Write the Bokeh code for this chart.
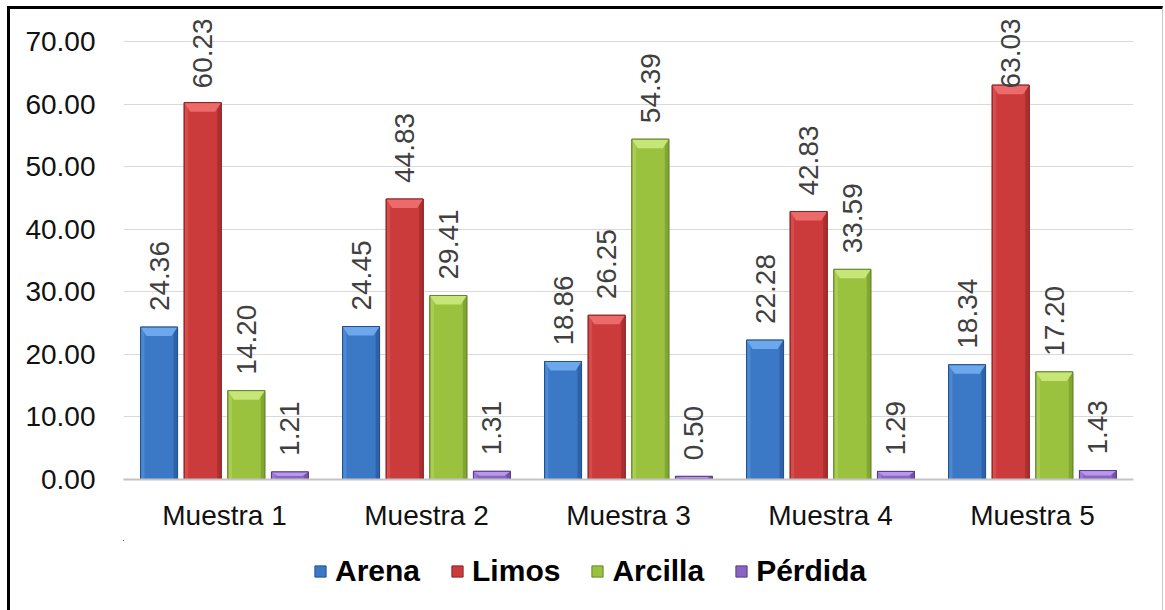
import math

from bokeh.core.properties import value
from bokeh.embed import file_html
from bokeh.layouts import column
from bokeh.models import (ColumnDataSource, FixedTicker, Legend, LegendItem,
                          NumeralTickFormatter, Range1d)
from bokeh.plotting import figure
from bokeh.resources import INLINE

# --- data -------------------------------------------------------------------
muestras = ["Muestra 1", "Muestra 2", "Muestra 3", "Muestra 4", "Muestra 5"]
series = ["Arena", "Limos", "Arcilla", "Pérdida"]
arena = [24.36, 24.45, 18.86, 22.28, 18.34]
limos = [60.23, 44.83, 26.25, 42.83, 63.03]
arcilla = [14.20, 29.41, 54.39, 33.59, 17.20]
perdida = [1.21, 1.31, 0.50, 1.29, 1.43]
y_ticks = [0, 10, 20, 30, 40, 50, 60, 70]

values_by_series = [arena, limos, arcilla, perdida]

# --- styling ----------------------------------------------------------------
FONT = "Liberation Sans"
# (fill, edge, highlight, shade) per series
palette = [
    ("#3b78c6", "#24508c", "#6ea8ec", "#2d62a8"),
    ("#cc3b3b", "#8c2323", "#ec6a6a", "#ad2e2e"),
    ("#9bc23f", "#67862a", "#c6e677", "#82a632"),
    ("#8a64c2", "#583c86", "#b898ea", "#7352a8"),
]

W = 1152
H_MAIN, H_LEG = 531, 73
MB_L, MB_R, MB_T, MB_B = 113, 29, 7, 61
Y_MAX = 74.0
frame_w = W - MB_L - MB_R
frame_h = H_MAIN - MB_T - MB_B
px_x = frame_w / len(muestras)      # pixels per category unit
px_y = frame_h / Y_MAX              # pixels per y unit

bar_w = 37 / px_x
step = 0.216
offsets = [(i - 1.5) * step for i in range(len(series))]
centers = [i + 0.5 for i in range(len(muestras))]

p = figure(width=W, height=H_MAIN, output_backend="svg", toolbar_location=None,
           x_range=Range1d(0, len(muestras)), y_range=Range1d(0, Y_MAX),
           min_border_left=MB_L, min_border_right=MB_R,
           min_border_top=MB_T, min_border_bottom=MB_B,
           background_fill_color="white", border_fill_color="white")
p.outline_line_color = None

# grid and axes
p.xgrid.grid_line_color = None
p.ygrid.ticker = FixedTicker(ticks=y_ticks)
p.ygrid.grid_line_color = "#d9d9d9"
p.ygrid.grid_line_width = 1

p.yaxis.ticker = FixedTicker(ticks=y_ticks)
p.yaxis.formatter = NumeralTickFormatter(format="0.00")
p.yaxis.axis_line_color = None
p.yaxis.major_tick_line_color = None
p.yaxis.minor_tick_line_color = None
p.yaxis.major_label_standoff = 22
p.yaxis.major_label_text_font = FONT
p.yaxis.major_label_text_font_size = "28px"
p.yaxis.major_label_text_color = "#111111"

p.xaxis.ticker = FixedTicker(ticks=centers)
p.xaxis.major_label_overrides = {c: m for c, m in zip(centers, muestras)}
p.xaxis.axis_line_color = "#c4c4c4"
p.xaxis.axis_line_width = 2
p.xaxis.major_tick_line_color = None
p.xaxis.minor_tick_line_color = None
p.xaxis.major_label_standoff = 14
p.xaxis.major_label_text_font = FONT
p.xaxis.major_label_text_font_size = "28px"
p.xaxis.major_label_text_color = "#111111"

# value labels sit above the bars, but never run past the top of the chart
label_gap = 16 / px_y
label_len = 70 / px_y
label_ceiling = (Y_MAX - 0.3) - label_len

# legend strip underneath the chart; its ranges lie away from the data so
# the swatch bars feeding the legend stay out of view
pl = figure(width=W, height=H_LEG, output_backend="svg", toolbar_location=None,
            x_range=Range1d(100, 105), y_range=Range1d(-200, -100),
            x_axis_location=None, y_axis_location=None,
            min_border_left=0, min_border_right=0,
            min_border_top=0, min_border_bottom=0,
            background_fill_color="white", border_fill_color="white")
pl.outline_line_color = None
pl.xgrid.grid_line_color = None
pl.ygrid.grid_line_color = None

legend_items = []
for s_idx, (name, vals) in enumerate(zip(series, values_by_series)):
    fill, edge, hi, shade = palette[s_idx]
    xs = [c + offsets[s_idx] for c in centers]
    src = ColumnDataSource(dict(x=xs, top=vals))

    p.vbar(x="x", top="top", width=bar_w, bottom=0, source=src,
           fill_color=fill, line_color=edge, line_width=1)

    # side shading for the bevel look
    side = 4 / px_x
    p.vbar(x=[x + bar_w / 2 - side / 2 for x in xs], top=vals, width=side,
           fill_color=shade, line_color=None)
    p.vbar(x=[x - bar_w / 2 + side / 2 for x in xs], top=vals, width=side,
           fill_color=hi, fill_alpha=0.35, line_color=None)

    # top bevel: light trapezoid
    inset = 6 / px_x
    bevel_xs, bevel_ys = [], []
    for x, v in zip(xs, vals):
        h = min(9 / px_y, v * 0.55)
        bevel_xs.append([x - bar_w / 2, x + bar_w / 2,
                         x + bar_w / 2 - inset, x - bar_w / 2 + inset])
        bevel_ys.append([v, v, v - h, v - h])
    p.patches(bevel_xs, bevel_ys, fill_color=hi, line_color=None)

    # redraw the outline on top
    p.vbar(x=xs, top=vals, width=bar_w, fill_color=None,
           line_color=edge, line_width=1)

    label_y = [min(v + label_gap, label_ceiling) for v in vals]
    p.text(x=xs, y=label_y, text=[f"{v:.2f}" for v in vals],
           angle=math.pi / 2, text_align="left", text_baseline="middle",
           text_font=value(FONT), text_font_size="28px", text_color="#404040")

    swatch = pl.vbar(x="x", top="top", width=bar_w, bottom=0, source=src,
                     fill_color=fill, line_color=edge, line_width=1)
    legend_items.append(LegendItem(label=name, renderers=[swatch]))

legend = Legend(items=legend_items, orientation="horizontal",
                location=(190, 25), glyph_width=14, glyph_height=14,
                label_standoff=8, spacing=30, padding=0, margin=0,
                label_text_font=FONT, label_text_font_size="30px",
                label_text_font_style="bold", label_text_color="#000000",
                background_fill_alpha=0, border_line_color=None)
pl.add_layout(legend, "center")

layout = column(p, pl, spacing=0)
layout.styles = {"margin-left": "7px", "margin-top": "6px",
                 "border-left": "3px solid #000", "border-top": "3px solid #000",
                 "border-right": "1px solid #c8c8c8"}

open("out.html", "w").write(file_html(layout, INLINE))
